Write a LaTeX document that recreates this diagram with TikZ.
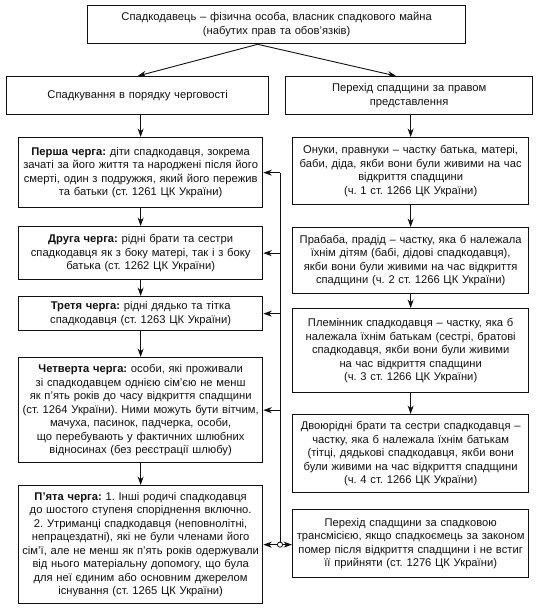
\documentclass[tikz,border=0pt]{standalone}
\usepackage{fontspec}
\setmainfont{Liberation Sans}
\usepackage{tikz}
\usetikzlibrary{arrows.meta, calc, positioning}
\definecolor{mInk}{HTML}{111111}
\newcommand{\bxfont}{\fontsize{11.2}{13.5}\selectfont\frenchspacing}

\begin{document}
\begin{tikzpicture}[x=1pt, y=-1pt, >={Stealth[length=8.5pt, width=6pt]},
  box/.style={draw=mInk, line width=1.3pt, anchor=north west, align=center,
    inner sep=2pt, font=\bxfont, text=mInk},
  link/.style={->, mInk, line width=0.9pt}]
  \useasboundingbox (0,0) rectangle (542,614);
  % owner and the two ways of inheriting
  \node[box, text width=374pt, minimum height=38pt] (owner) at (87,5)
    {Спадкодавець – фізична особа, власник спадкового майна\\(набутих прав та обов’язків)};
  \node[box, text width=258pt, minimum height=38pt] (lhead) at (6,76)
    {Спадкування в порядку черговості};
  \node[box, text width=243pt, minimum height=38pt] (rhead) at (285,76)
    {Перехід спадщини за правом\\представлення};
  % the five orders
  \node[box, text width=240pt, minimum height=70pt] (first) at (18,137)
    {\textbf{Перша черга:} діти спадкодавця, зокрема\\зачаті за його життя та народжені після його\\смерті, один з подружжя, який його пережив\\та батьки (ст. 1261 ЦК України)};
  \node[box, text width=240pt, minimum height=53pt] (second) at (18,226)
    {\textbf{Друга черга:} рідні брати та сестри\\спадкодавця як з боку матері, так і з боку\\батька (ст. 1262 ЦК України)};
  \node[box, text width=240pt, minimum height=34pt] (third) at (18,296)
    {\textbf{Третя черга:} рідні дядько та тітка\\спадкодавця (ст. 1263 ЦК України)};
  \node[box, text width=240pt, minimum height=105pt] (fourth) at (18,357)
    {\textbf{Четверта черга:} особи, які проживали\\зі спадкодавцем однією сім’єю не менш\\як п’ять років до часу відкриття спадщини\\(ст. 1264 України). Ними можуть бути вітчим,\\мачуха, пасинок, падчерка, особи,\\що перебувають у фактичних шлюбних\\відносинах (без реєстрації шлюбу)};
  \node[box, text width=240pt, minimum height=118pt] (fifth) at (18,485)
    {\textbf{П’ята черга:} 1. Інші родичі спадкодавця\\до шостого ступеня споріднення включно.\\2. Утриманці спадкодавця (неповнолітні,\\непрацездатні), які не були членами його\\сім’ї, але не менш як п’ять років одержували\\від нього матеріальну допомогу, що була\\для неї єдиним або основним джерелом\\існування (ст. 1265 ЦК України)};
  % representation
  \node[box, text width=232pt, minimum height=67pt] (grand) at (292,137)
    {Онуки, правнуки – частку батька, матері,\\баби, діда, якби вони були живими на час\\відкриття спадщини\\(ч. 1 ст. 1266 ЦК України)};
  \node[box, text width=232pt, minimum height=66pt] (great) at (292,227)
    {Прабаба, прадід – частку, яка б належала\\їхнім дітям (бабі, дідові спадкодавця),\\якби вони були живими на час відкриття\\спадщини (ч. 2 ст. 1266 ЦК України)};
  \node[box, text width=232pt, minimum height=84pt] (nephew) at (292,308)
    {Племінник спадкодавця – частку, яка б\\належала їхнім батькам (сестрі, братові\\спадкодавця, якби вони були живими\\на час відкриття спадщини\\(ч. 3 ст. 1266 ЦК України)};
  \node[box, text width=232pt, minimum height=78pt] (cousin) at (292,414)
    {Двоюрідні брати та сестри спадкодавця –\\частку, яка б належала їхнім батькам\\(тітці, дядькові спадкодавця, якби вони\\були живими на час відкриття спадщини\\(ч. 4 ст. 1266 ЦК України)};
  \node[box, text width=232pt, minimum height=68pt] (trans) at (292,509)
    {Перехід спадщини за спадковою\\трансмісією, якщо спадкоємець за законом\\помер після відкриття спадщини і не встиг\\її прийняти (ст. 1276 ЦК України)};

  \draw[link] ([xshift=-19pt]owner.south) -- (lhead.north);
  \draw[link] ([xshift=-19pt]owner.south) -- ([xshift=-13pt]rhead.north);
  \draw[link] (lhead.south -| first.north) -- (first.north);
  \draw[link] (rhead.south -| grand.north) -- (grand.north);
  \foreach \a/\b in {first/second, second/third, third/fourth, fourth/fifth,
                     grand/great, great/nephew, nephew/cousin}
    \draw[link] (\a.south) -- (\b.north);
  % transmission bus
  \coordinate (bus) at (280,0);
  \draw[mInk, line width=0.7pt] (first.east -| bus) -- (fifth.east -| bus);
  \foreach \n in {first, second, third, fourth, fifth}
    \draw[link] (\n.east -| bus) -- (\n.east);
  \draw[link] (fifth.east -| bus) -- (fifth.east -| trans.west);
  \draw[mInk, line width=0.8pt, fill=white] (fifth.east -| bus) circle (2.6pt);
\end{tikzpicture}
\end{document}
